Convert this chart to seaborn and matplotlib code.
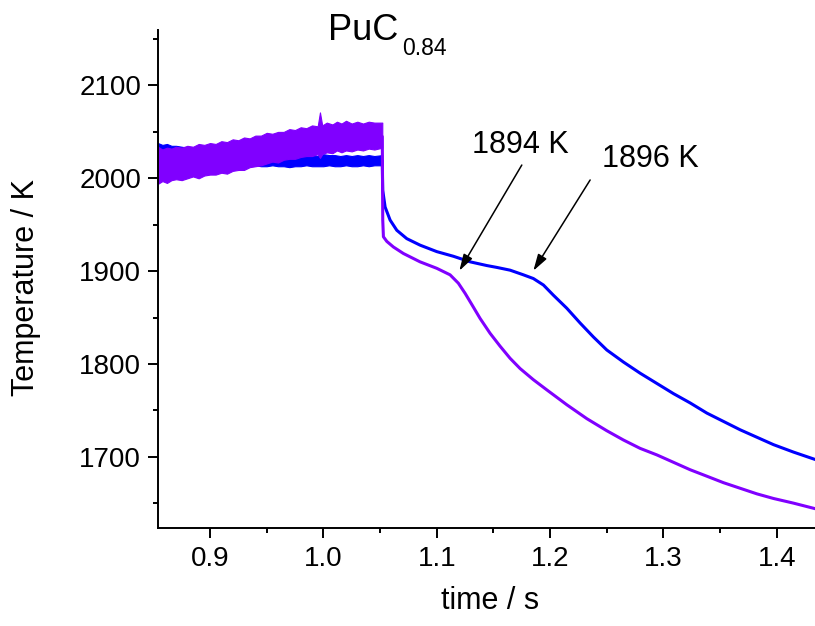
import matplotlib
matplotlib.use("Agg")
import matplotlib.pyplot as plt
import seaborn as sns
import pandas as pd

# ---- data ----
# noisy plateau before the drop: envelope of the noise band (time, low, high)
blue_noise_t  = [0.854, 0.858, 0.862, 0.866, 0.870, 0.875, 0.880, 0.885, 0.890, 0.895,
                 0.900, 0.905, 0.910, 0.915, 0.920, 0.925, 0.930, 0.935, 0.940, 0.945,
                 0.950, 0.955, 0.960, 0.965, 0.970, 0.975, 0.980, 0.985, 0.990, 0.995,
                 1.000, 1.005, 1.010, 1.015, 1.020, 1.025, 1.030, 1.035, 1.040, 1.045, 1.052]
blue_noise_lo = [2023, 2024, 2023, 2022, 2023, 2021, 2021, 2020, 2021, 2019,
                 2018, 2018, 2017, 2016, 2016, 2015, 2015, 2014, 2014, 2013,
                 2013, 2014, 2013, 2013, 2012, 2013, 2013, 2014, 2013, 2013,
                 2013, 2014, 2013, 2013, 2014, 2013, 2013, 2014, 2013, 2014, 2014]
blue_noise_hi = [2038, 2036, 2037, 2035, 2035, 2034, 2033, 2033, 2032, 2031,
                 2030, 2030, 2029, 2028, 2028, 2027, 2027, 2026, 2026, 2025,
                 2025, 2025, 2024, 2024, 2025, 2024, 2026, 2024, 2025, 2024,
                 2026, 2025, 2025, 2024, 2025, 2024, 2025, 2024, 2025, 2024, 2025]

purple_noise_t  = [0.854, 0.858, 0.862, 0.866, 0.870, 0.875, 0.880, 0.885, 0.890, 0.895,
                   0.900, 0.905, 0.910, 0.915, 0.920, 0.925, 0.930, 0.935, 0.940, 0.945,
                   0.950, 0.955, 0.960, 0.965, 0.970, 0.975, 0.980, 0.985, 0.990, 0.995,
                   0.997, 0.999, 1.003, 1.008, 1.012, 1.016, 1.020, 1.025, 1.030, 1.035,
                   1.040, 1.045, 1.052]
purple_noise_lo = [1994, 1997, 1995, 1998, 1999, 1998, 2000, 2002, 2000, 2003,
                   2004, 2004, 2006, 2005, 2008, 2009, 2009, 2012, 2013, 2014,
                   2016, 2018, 2017, 2020, 2021, 2021, 2023, 2024, 2024, 2026,
                   2022, 2026, 2028, 2027, 2030, 2028, 2030, 2029, 2031, 2030,
                   2032, 2031, 2033]
purple_noise_hi = [2034, 2031, 2033, 2032, 2034, 2033, 2035, 2034, 2037, 2036,
                   2038, 2037, 2040, 2039, 2042, 2041, 2044, 2043, 2046, 2046,
                   2049, 2048, 2050, 2050, 2053, 2052, 2055, 2054, 2057, 2056,
                   2071, 2057, 2060, 2058, 2061, 2059, 2062, 2059, 2061, 2059,
                   2061, 2060, 2060]

# cooling curves after the laser pulse
blue_t = [1.0520, 1.0522, 1.0524, 1.0545, 1.0589, 1.0648, 1.0736, 1.0853, 1.1001,
          1.1147, 1.1295, 1.1442, 1.1530, 1.1648, 1.1765, 1.1853, 1.1942, 1.2030,
          1.2148, 1.2266, 1.2383, 1.2501, 1.2648, 1.2795, 1.2942, 1.3089, 1.3236,
          1.3384, 1.3531, 1.3678, 1.3825, 1.3972, 1.4148, 1.4340]
blue_T = [2019, 2000, 1987, 1969, 1955, 1944, 1935, 1928, 1921,
          1916, 1910, 1906, 1904, 1901, 1896, 1892, 1885, 1874,
          1860, 1844, 1829, 1815, 1802, 1790, 1779, 1768, 1758,
          1747, 1738, 1729, 1721, 1713, 1705, 1697]

purple_t = [1.0520, 1.0524, 1.0530, 1.0560, 1.0618, 1.0706, 1.0853, 1.1001, 1.1118,
            1.1191, 1.1251, 1.1310, 1.1383, 1.1471, 1.1560, 1.1648, 1.1736, 1.1853,
            1.1972, 1.2148, 1.2325, 1.2501, 1.2648, 1.2795, 1.2942, 1.3089, 1.3236,
            1.3384, 1.3531, 1.3678, 1.3825, 1.3972, 1.4148, 1.4340]
purple_T = [2045, 1955, 1937, 1932, 1926, 1919, 1910, 1903, 1896,
            1887, 1876, 1864, 1849, 1833, 1819, 1806, 1795, 1783,
            1772, 1756, 1741, 1728, 1718, 1709, 1702, 1694, 1686,
            1679, 1672, 1666, 1660, 1655, 1650, 1644]

# arrow annotations: label, text position, arrow start, arrow tip
notes = [
    ("1894 K", (1.1312, 2027.3), (1.1751, 2014.3), (1.1200, 1900.4)),
    ("1896 K", (1.2457, 2012.2), (1.2354, 1998.2), (1.1853, 1900.4)),
]

BLUE = "#0000ff"
PURPLE = "#8000ff"

sns.set_theme(style="ticks")
plt.rcParams["font.family"] = ["Liberation Sans", "DejaVu Sans"]
plt.rcParams["text.color"] = "black"
plt.rcParams["axes.labelcolor"] = "black"
plt.rcParams["xtick.color"] = "black"
plt.rcParams["ytick.color"] = "black"

fig = plt.figure(figsize=(8.15, 6.26), dpi=100)
ax = fig.add_axes([158 / 815, 98 / 626, 657 / 815, 498 / 626])

# noisy plateaus
ax.fill_between(blue_noise_t, blue_noise_lo, blue_noise_hi, color=BLUE, lw=0.8, edgecolor=BLUE)
ax.fill_between(purple_noise_t, purple_noise_lo, purple_noise_hi, color=PURPLE, lw=0.8, edgecolor=PURPLE)

# cooling curves
blue_df = pd.DataFrame({"t": blue_t, "T": blue_T})
purple_df = pd.DataFrame({"t": purple_t, "T": purple_T})
sns.lineplot(data=blue_df, x="t", y="T", color=BLUE, lw=2.2, sort=False, estimator=None, ax=ax)
sns.lineplot(data=purple_df, x="t", y="T", color=PURPLE, lw=2.2, sort=False, estimator=None, ax=ax)

for label, txt, start, tip in notes:
    ax.annotate("", xy=tip, xytext=start,
                arrowprops=dict(arrowstyle="-|>,head_length=1.0,head_width=0.3",
                                mutation_scale=10, color="black", lw=1.1,
                                shrinkA=0, shrinkB=0))
    ax.text(txt[0], txt[1], label, fontsize=22, ha="left", va="baseline", color="black")

ax.set_xlim(0.8541, 1.4338)
ax.set_ylim(1623.2, 2159.8)
ax.set_xticks([0.9, 1.0, 1.1, 1.2, 1.3, 1.4])
ax.set_xticks([0.95, 1.05, 1.15, 1.25, 1.35], minor=True)
ax.set_yticks([1700, 1800, 1900, 2000, 2100])
ax.set_yticks([1650, 1750, 1850, 1950, 2050, 2150], minor=True)
ax.set_xticklabels(["0.9", "1.0", "1.1", "1.2", "1.3", "1.4"])
ax.tick_params(which="major", direction="out", length=7.2, width=1.4, labelsize=20, color="black")
ax.tick_params(which="minor", direction="out", length=3.6, width=1.4, color="black")
ax.tick_params(axis="x", pad=6)
ax.tick_params(axis="y", pad=5)
ax.set_xlabel("")
ax.set_ylabel("")
for s in ["top", "right"]:
    ax.spines[s].set_visible(False)
for s in ["left", "bottom"]:
    ax.spines[s].set_linewidth(1.4)
    ax.spines[s].set_color("black")

fig.text(26.5 / 815, 1 - 288 / 626, "Temperature / K", fontsize=22, rotation=90,
         ha="center", va="center")
fig.text(490 / 815, 1 - 601 / 626, "time / s", fontsize=22, ha="center", va="center")

# title with subscript
fig.text(328 / 815, 1 - 40 / 626, "PuC", fontsize=26, ha="left", va="baseline")
fig.text(402 / 815, 1 - 55 / 626, "0.84", fontsize=16.5, ha="left", va="baseline")

fig.savefig("out.png", dpi=100)
